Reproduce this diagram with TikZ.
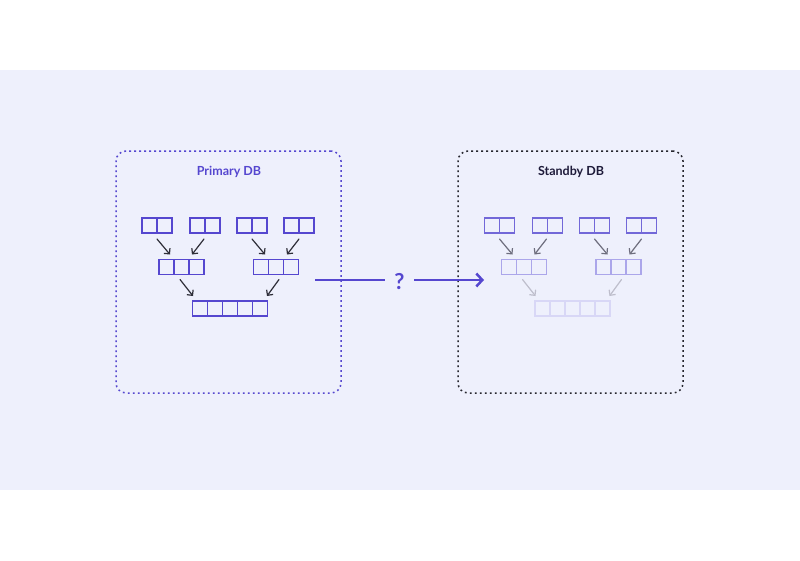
\documentclass[tikz,border=0pt]{standalone}
\usepackage{fontspec}
\setmainfont{Lato}
\usetikzlibrary{arrows.meta}
\definecolor{bg}{HTML}{EEF0FC}
\definecolor{pur}{HTML}{5547CF}
\definecolor{purA}{HTML}{7268D8}
\definecolor{purB}{HTML}{ABA6EA}
\definecolor{purC}{HTML}{D8D7F6}
\definecolor{navy}{HTML}{1E1B3A}
\definecolor{arrdark}{HTML}{2E2E38}
\definecolor{arrmid}{HTML}{6E6E7E}
\definecolor{arrlight}{HTML}{BEBECC}
\definecolor{dotdark}{HTML}{26262E}
\tikzset{
  cellbox/.style={draw, line width=1.4pt, minimum height=15pt, inner sep=0pt, outer sep=0pt},
  arr/.style={-{Straight Barb[length=4pt,width=8pt]}, line width=1.2pt, line cap=round},
  dbbox/.style={line width=1.5pt, dash pattern=on 1.8pt off 3.2pt, rounded corners=10pt, minimum width=225pt, minimum height=242pt, inner sep=0pt},
  dbtitle/.style={font=\bfseries\fontsize{12.5}{14}\selectfont},
  mainline/.style={draw=pur, line width=2.5pt}
}
\newcommand\cellrow[6]{% name, x, y, n, n-1, color
  \node[cellbox, draw=#6, minimum width=#4*15pt] (#1) at (#2,#3) {};
  \foreach \k in {1,...,#5} {
    \draw[#6, line width=1.4pt] ([xshift=\k*15pt]#1.north west) -- ([xshift=\k*15pt]#1.south west);
  }
}
\begin{document}
\begin{tikzpicture}[x=1pt,y=-1pt]
\useasboundingbox (0,0) rectangle (800,560);
\fill[white] (0,0) rectangle (800,560);
\fill[bg] (0,70) rectangle (800,490);

% boxes
\node[dbbox, draw=pur] (primary) at (228.5,272) {};
\node[dbbox, draw=dotdark] (standby) at (570.5,272) {};
\node[dbtitle, text=pur] (ptitle) at (229,172) {Primary DB};
\node[dbtitle, text=navy] (stitle) at (571,172) {Standby DB};

% primary cells
\cellrow{p1}{157}{225.5}{2}{1}{pur}
\cellrow{p2}{205}{225.5}{2}{1}{pur}
\cellrow{p3}{252}{225.5}{2}{1}{pur}
\cellrow{p4}{299}{225.5}{2}{1}{pur}
\cellrow{m1}{181.5}{267}{3}{2}{pur}
\cellrow{m2}{276}{267}{3}{2}{pur}
\cellrow{b}{230}{308.5}{5}{4}{pur}

\draw[arr, arrdark] ([yshift=-6pt]p1.south) -- ([xshift=-11.5pt,yshift=5pt]m1.north);
\draw[arr, arrdark] ([xshift=-1pt,yshift=-6pt]p2.south) -- ([xshift=10.5pt,yshift=5pt]m1.north);
\draw[arr, arrdark] ([yshift=-6pt]p3.south) -- ([xshift=-11pt,yshift=5pt]m2.north);
\draw[arr, arrdark] ([yshift=-6pt]p4.south) -- ([xshift=11pt,yshift=5pt]m2.north);
\draw[arr, arrdark] ([xshift=-1.5pt,yshift=-5pt]m1.south) -- ([xshift=-37pt,yshift=5pt]b.north);
\draw[arr, arrdark] ([xshift=3pt,yshift=-5pt]m2.south) -- ([xshift=37pt,yshift=5pt]b.north);

% standby cells
\cellrow{sp1}{499.5}{225.5}{2}{1}{purA}
\cellrow{sp2}{547.5}{225.5}{2}{1}{purA}
\cellrow{sp3}{594.5}{225.5}{2}{1}{purA}
\cellrow{sp4}{641.5}{225.5}{2}{1}{purA}
\cellrow{sm1}{524}{267}{3}{2}{purB}
\cellrow{sm2}{618.5}{267}{3}{2}{purB}
\cellrow{sb}{572.5}{308.5}{5}{4}{purC}

\draw[arr, arrmid] ([yshift=-6pt]sp1.south) -- ([xshift=-11.5pt,yshift=5pt]sm1.north);
\draw[arr, arrmid] ([xshift=-1pt,yshift=-6pt]sp2.south) -- ([xshift=10.5pt,yshift=5pt]sm1.north);
\draw[arr, arrmid] ([yshift=-6pt]sp3.south) -- ([xshift=-11pt,yshift=5pt]sm2.north);
\draw[arr, arrmid] ([yshift=-6pt]sp4.south) -- ([xshift=11pt,yshift=5pt]sm2.north);
\draw[arr, arrlight] ([xshift=-1.5pt,yshift=-5pt]sm1.south) -- ([xshift=-37pt,yshift=5pt]sb.north);
\draw[arr, arrlight] ([xshift=3pt,yshift=-5pt]sm2.south) -- ([xshift=37pt,yshift=5pt]sb.north);

% replication arrow
\node[text=pur, font=\bfseries\fontsize{22}{24}\selectfont, minimum width=29pt, inner sep=0pt] (q) at (399.5,282) {?};
\coordinate (rs) at (315,280);
\coordinate (re) at (484,280);
\draw[mainline] (rs) -- (q.west |- rs);
\draw[mainline, -{Straight Barb[length=6pt,width=13pt]}] (q.east |- re) -- (re);
\end{tikzpicture}
\end{document}
